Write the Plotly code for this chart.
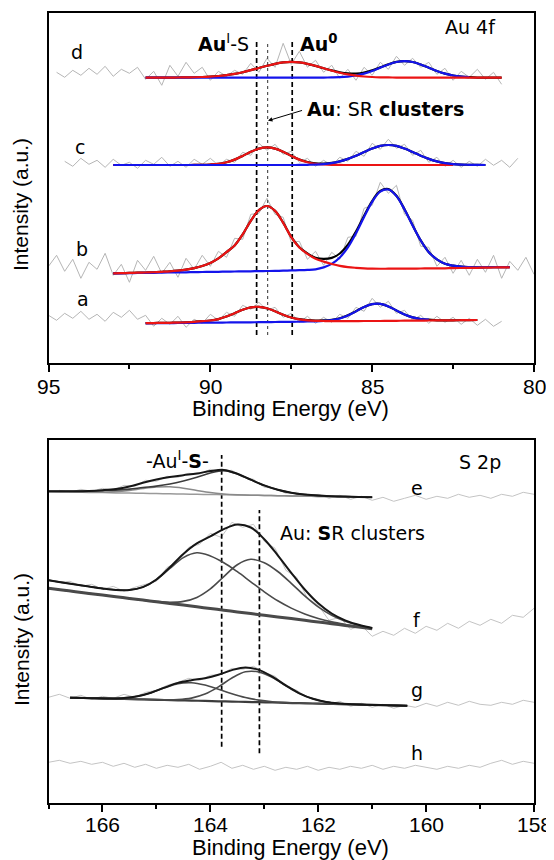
import numpy as np
import plotly.graph_objects as go

# ======================= Au 4f panel (top) =======================
TOP_E = [95.0, 94.75, 94.5, 94.25, 94.0, 93.75, 93.5, 93.25, 93.0, 92.75, 92.5, 92.25,
         92.0, 91.75, 91.5, 91.25, 91.0, 90.75, 90.5, 90.25, 90.0, 89.75, 89.5, 89.25,
         89.0, 88.75, 88.5, 88.25, 88.0, 87.75, 87.5, 87.25, 87.0, 86.75, 86.5, 86.25,
         86.0, 85.75, 85.5, 85.25, 85.0, 84.75, 84.5, 84.25, 84.0, 83.75, 83.5, 83.25,
         83.0, 82.75, 82.5, 82.25, 82.0, 81.75, 81.5, 81.25, 81.0, 80.75, 80.5, 80.25, 80.0]
TOP_TICKS = [95, 90, 85, 80]
TOP_MINOR = [92.5, 87.5, 82.5]

# raw spectra (intensity, arbitrary units) and their first energy
raw_d_start = 94.75
raw_d = [291, 286, 293, 288, 295, 289, 297, 287, 294, 290, 296, 284, 292, 278, 298, 287, 301, 290,
         296, 283, 292, 287, 293, 289, 300, 291, 305, 296, 320, 299, 312, 296, 303, 291, 298, 285,
         294, 283, 296, 288, 301, 294, 307, 298, 305, 296, 301, 289, 295, 283, 292, 286, 294, 284,
         291, 279]
raw_c_start = 94.5
raw_c = [202, 197, 205, 199, 203, 196, 204, 198, 201, 195, 203, 199, 206, 197, 202, 196, 204, 199,
         205, 198, 204, 201, 211, 208, 220, 213, 219, 209, 212, 201, 205, 197, 203, 198, 206, 202,
         212, 207, 220, 214, 224, 215, 219, 208, 213, 201, 206, 197, 203, 196, 202, 197, 204, 198,
         203, 196, 205]
raw_b_start = 95.0
raw_b = [97, 108, 92, 104, 85, 101, 94, 110, 88, 99, 81, 103, 93, 107, 90, 101, 86, 105, 94, 108,
         97, 112, 106, 125, 124, 149, 150, 165, 149, 146, 121, 122, 104, 112, 98, 111, 104, 126,
         127, 155, 158, 181, 170, 178, 149, 143, 117, 116, 97, 106, 90, 103, 88, 104, 91, 108, 85,
         102, 93, 106, 89]
raw_a_start = 95.0
raw_a = [48, 43, 50, 45, 52, 44, 49, 42, 51, 46, 53, 44, 48, 37, 45, 39, 47, 36, 44, 40, 49, 43,
         51, 47, 58, 54, 61, 53, 56, 46, 50, 41, 47, 40, 46, 41, 49, 45, 56, 52, 65, 56, 62, 50,
         53, 43, 48, 40, 47, 41, 46, 39, 45, 38, 44, 37, 42]

# fitted components (height above background): red and blue doublet components
fit_d_start = 92.0
base_d = 285.7
red_d = [0, 0, 0, 0, 0.1, 0.2, 0.35, 0.6, 1.0, 1.6, 2.5, 3.7, 5.4, 7.5, 9.6, 11.8, 13.8, 15.2, 15.7,
         15.2, 13.8, 11.7, 9.3, 7.0, 4.9, 3.2, 2.0, 1.1, 0.6, 0.3, 0.15, 0.07, 0, 0, 0, 0, 0, 0, 0,
         0, 0, 0, 0, 0, 0]
blue_d = [0] * 22 + [0.05, 0.16, 0.4, 1.0, 2.1, 4.0, 6.6, 9.9, 13.1, 15.6, 16.5, 15.6, 13.1, 9.9,
                     6.6, 4.0, 2.1, 1.0, 0.4, None, None, None, None]

fit_c_start = 93.0
base_c = 198.3
red_c = [0] * 10 + [0.05, 0.16, 0.5, 1.2, 2.8, 5.4, 9.1, 13.2, 16.4, 17.7, 16.4, 13.2, 9.1, 5.4,
                    2.8, 1.2, 0.5, 0.16, 0.05] + [0] * 14 + [None] * 4
blue_c = [0] * 23 + [0.06, 0.2, 0.4, 0.9, 1.9, 3.6, 6.1, 9.3, 13.0, 16.5, 19.1, 20.0, 19.1, 16.5,
                     13.0, 9.3, 6.1, 3.6, 1.9, 0.9, 0.4, 0.2, 0.06, 0]

fit_b_start = 93.0
base_b = [89.9, 90.0, 90.2, 90.3, 90.4, 90.5, 90.7, 90.8, 90.9, 91.0, 91.2, 91.3, 91.4, 91.5, 91.7,
          91.8, 91.9, 92.0, 92.2, 92.3, 92.4, 92.5, 92.7, 92.8, 92.9, 93.0, 93.2, 93.3, 93.4, 93.5,
          93.7, 93.8, 93.9, 94.0, 94.2, 94.3, 94.4, 94.5, 94.7, 94.8, 94.9, 95.0, 95.2, 95.3, 95.4,
          95.5, 95.7, 95.8, 95.9, 96.0]
red_b = [0.1, 0.15, 0.2, 0.3, 0.4, 0.55, 0.8, 1.2, 1.8, 2.7, 4.0, 6.0, 9.0, 13.5, 19.5, 26, 37,
         50.5, 61, 65, 60, 48, 33.5, 23, 16.5, 11.5, 8.5, 6.0, 4.0, 2.7, 1.8, 1.2, 0.8, 0.55, 0.4,
         0.3, 0.2, 0.15, 0.1, 0.05, 0, 0, 0, 0, 0, 0, 0, 0, 0, 0]
blue_b = [0] * 21 + [0.1, 0.2, 0.3, 0.5, 1.0, 2.7, 6.1, 12.4, 22.4, 36.3, 52.5, 67.6, 77.7, 79.6,
                     72.9, 59.4, 43.3, 28.1, 16.3, 9.0, 4.5, 2.4, 1.3, 0.8, 0.5, 0.35, 0.25, 0.15,
                     0.1]

fit_a_start = 92.0
base_a = [40.0, 40.1, 40.2, 40.2, 40.3, 40.4, 40.5, 40.6, 40.6, 40.7, 40.8, 40.9, 41.0, 41.0, 41.1,
          41.2, 41.3, 41.4, 41.4, 41.5, 41.6, 41.7, 41.8, 41.8, 41.9, 42.0, 42.1, 42.2, 42.2, 42.3,
          42.4, 42.5, 42.6, 42.6, 42.7, 42.8, 42.9, 43.0, 43.0, 43.1, 43.2, 43.3]
red_a = [0.1, 0.15, 0.2, 0.3, 0.4, 0.6, 0.9, 1.5, 2.2, 3.5, 6.0, 9.1, 12.5, 14.9, 15.4, 13.8, 10.7,
         7.2, 4.4, 2.5, 1.4, 0.8, 0.5, 0.35, 0.25, 0.2, 0.15, 0.1, 0.08] + [0] * 13
blue_a = [0] * 19 + [0.1, 0.2, 0.3, 0.6, 1.4, 2.9, 5.8, 9.8, 14.1, 16.9, 17.1, 14.5, 10.4, 6.2, 3.3,
                     1.6, 0.8] + [None] * 6

au_dash_E = [88.57, 87.47]       # Au(I)-S and Au(0) reference energies
au_dot_E = 88.23                 # Au: SR clusters
au_line_span = [28.3, 323.3]

# ======================= S 2p panel (bottom) =======================
BOT_TICKS = [166, 164, 162, 160, 158]
BOT_MINOR = [167, 165, 163, 161, 159]
BOT_RAW_E = [167.0, 166.8, 166.6, 166.4, 166.2, 166.0, 165.8, 165.6, 165.4, 165.2, 165.0, 164.8,
             164.6, 164.4, 164.2, 164.0, 163.8, 163.6, 163.4, 163.2, 163.0, 162.8, 162.6, 162.4,
             162.2, 162.0, 161.8, 161.6, 161.4, 161.2, 161.0, 160.8, 160.6, 160.4, 160.2, 160.0,
             159.8, 159.6, 159.4, 159.2, 159.0, 158.8, 158.6, 158.4, 158.2, 158.0]
raw_e = [None, 313, 311, 314, 312, 315, 313, 318, 317, 323, 322, 327, 326, 330, 329, 334, 332, 333,
         326, 324, 316, 315, 310, 311, 307, 309, 305, 308, 304, 307, 303, 306, 302, 305, 308, 304,
         307, 305, 309, 306, 308, 305, 309, 307, 311, 309]
raw_f = [224, 221, 222, 217, 219, 214, 217, 212, 216, 219, 222, 236, 241, 256, 259, 270, 266, 281,
         276, 279, 262, 255, 233, 226, 205, 198, 183, 186, 174, 178, 167, 172, 168, 175, 170, 177,
         173, 180, 175, 182, 178, 184, 180, 188, 186, 195]
raw_g = [106, 109, 105, 108, 104, 107, 105, 109, 106, 111, 113, 118, 121, 125, 123, 128, 129, 135,
         134, 137, 131, 127, 117, 113, 106, 104, 99, 102, 97, 100, 96, 99, 95, 98, 96, 100, 97,
         101, 98, 102, 99, 98, 101, 99, 103, 101]
raw_h = [41, 43, 40, 42, 39, 41, 37, 40, 36, 39, 35, 38, 36, 39, 34, 37, 41, 35, 38, 34, 37, 33, 36,
         34, 37, 33, 36, 34, 37, 35, 38, 34, 37, 35, 38, 36, 34, 37, 35, 38, 36, 40, 43, 39, 42, 40]

FIT_EF = [167.0, 166.75, 166.5, 166.25, 166.0, 165.75, 165.5, 165.25, 165.0, 164.75, 164.5, 164.25,
          164.0, 163.75, 163.5, 163.25, 163.0, 162.75, 162.5, 162.25, 162.0, 161.75, 161.5,
          161.25, 161.0]
base_e = [311.6, 311.4, 311.1, 310.9, 310.7, 310.4, 310.2, 310.0, 309.7, 309.5, 309.3, 309.0, 308.8,
          308.6, 308.3, 308.1, 307.9, 307.6, 307.4, 307.2, 306.9, 306.7, 306.5, 306.2, 306.0]
main_e = [0.5, 0.7, 1.0, 1.4, 2.0, 2.8, 4.0, 5.8, 7.5, 9.8, 13.0, 17.0, 21.5, 24.0, 21.0, 15.5, 10.0,
          6.0, 3.2, 1.6, 0.8, 0.4, 0.2, 0.1, 0]
shoulder_e = [0, 0, 0, 0.1, 0.4, 1.1, 2.6, 4.7, 6.5, 7.0, 5.8, 3.8, 1.9, 0.8, 0.3, 0, 0, 0, 0, 0, 0,
              0, 0, 0, 0]
base_f = [215.0, 213.3, 211.6, 209.9, 208.3, 206.6, 204.9, 203.2, 201.5, 199.8, 198.2, 196.5, 194.8,
          193.1, 191.4, 189.7, 188.0, 186.3, 184.7, 183.0, 181.3, 179.6, 177.9, 176.2, 174.5]
left_f = [8.0, 7.6, 7.2, 6.9, 6.6, 6.8, 8.4, 13.0, 22.0, 35.0, 47.5, 54.0, 52.5, 47.5, 40.2, 31.8,
          23.5, 16.2, 10.5, 6.4, 3.6, 1.8, 0.9, 0.4, 0.2]
right_f = [0, 0, 0, 0, 0, 0, 0, 0, 0.3, 1.2, 3.7, 9.4, 19.6, 33.6, 47.2, 54.3, 52.6, 45.5, 35.3,
           24.4, 15.1, 8.4, 4.2, 1.9, 0.7]

FIT_G = [166.6, 166.35, 166.1, 165.85, 165.6, 165.35, 165.1, 164.85, 164.6, 164.35, 164.1, 163.85,
         163.6, 163.35, 163.1, 162.85, 162.6, 162.35, 162.1, 161.85, 161.6, 161.35, 161.1, 160.85,
         160.6, 160.35]
base_g = [105.6, 105.3, 104.9, 104.6, 104.3, 104.0, 103.7, 103.3, 103.0, 102.7, 102.4, 102.0, 101.7,
          101.4, 101.1, 100.8, 100.4, 100.1, 99.8, 99.5, 99.2, 98.8, 98.5, 98.2, 97.9, 97.5]
left_g = [0, 0, 0.1, 0.3, 1.1, 3.1, 6.9, 12.2, 16.7, 17.9, 15.9, 12.1, 7.9, 4.4, 2.1, 0.8, 0.3, 0.1,
          0, 0, 0, 0, 0, 0, 0, 0]
right_g = [0, 0, 0, 0, 0, 0, 0, 0.2, 0.7, 2.5, 6.8, 14.4, 23.6, 30.1, 30.2, 25.0, 17.2, 9.8, 4.7,
           1.8, 0.6, 0.2, 0, 0, 0, 0]

s_dash_E = [163.79, 163.09]
s_dash_span = [[56.6, 348.3], [50.0, 293.3]]


# ======================= helpers =======================
def arr(v):
    return np.array([np.nan if a is None else a for a in v], dtype=float)


def seg(grid, start, n):
    i = grid.index(start)
    return grid[i:i + n]


RED = "rgb(235,20,20)"
BLUE = "rgb(20,20,235)"
RAWC = "#b5b5b5"
fig = go.Figure()


def line(x, y, color, width, xa="x", ya="y", shape="spline", dash=None):
    fig.add_trace(go.Scatter(x=x, y=y, mode="lines", xaxis=xa, yaxis=ya, hoverinfo="skip",
                             line=dict(color=color, width=width, shape=shape, dash=dash),
                             showlegend=False))


# ---- top panel ----
raws = [(raw_d_start, raw_d), (raw_c_start, raw_c), (raw_b_start, raw_b), (raw_a_start, raw_a)]
for st, vals in raws:
    line(seg(TOP_E, st, len(vals)), vals, RAWC, 1, shape="linear")

for e in au_dash_E:
    line([e, e], au_line_span, "black", 1.7, shape="linear", dash="5px,3px")
line([au_dot_E, au_dot_E], [au_line_span[0], au_line_span[1] - 3], "#555", 1.2,
     shape="linear", dash="dot")

fits = [(fit_d_start, base_d, red_d, blue_d, "red_top"),
        (fit_c_start, base_c, red_c, blue_c, "blue_top"),
        (fit_b_start, base_b, red_b, blue_b, "red_top"),
        (fit_a_start, base_a, red_a, blue_a, "red_top")]
for st, base, rd, bl, order in fits:
    x = seg(TOP_E, st, len(rd))
    b = np.array(base, dtype=float) * np.ones(len(rd))
    r = arr(rd)
    bb = arr(bl)
    env = b + np.nan_to_num(r) + np.nan_to_num(bb)
    line(x, env, "black", 2.2)
    if order == "red_top":
        line(x, b + bb, BLUE, 2.2)
        line(x, b + r, RED, 2.2)
    else:
        line(x, b + r, RED, 2.2)
        line(x, b + bb, BLUE, 2.2)

# ---- bottom panel ----
for vals in (raw_e, raw_f, raw_g, raw_h):
    line(BOT_RAW_E, vals, "#c4c4c4", 1, xa="x2", ya="y2", shape="linear")

for e, sp in zip(s_dash_E, s_dash_span):
    line([e, e], sp, "black", 1.7, xa="x2", ya="y2", shape="linear", dash="5px,3px")

be = np.array(base_e)
line(FIT_EF, be, "#9a9a9a", 1.5, "x2", "y2")
line(FIT_EF, be + np.array(shoulder_e), "#8a8a8a", 1.5, "x2", "y2")
line(FIT_EF, be + np.array(main_e), "#3c3c3c", 1.6, "x2", "y2")
line(FIT_EF, be + np.array(main_e) + np.array(shoulder_e), "#161616", 2.0, "x2", "y2")

bf = np.array(base_f)
line(FIT_EF, bf, "#4a4a4a", 3.0, "x2", "y2")
line(FIT_EF, bf + np.array(right_f), "#4a4a4a", 1.6, "x2", "y2")
line(FIT_EF, bf + np.array(left_f), "#4a4a4a", 1.6, "x2", "y2")
line(FIT_EF, bf + np.array(left_f) + np.array(right_f), "#161616", 2.0, "x2", "y2")

bg = np.array(base_g)
line(FIT_G, bg, "#3c3c3c", 2.2, "x2", "y2")
line(FIT_G, bg + np.array(left_g), "#4a4a4a", 1.6, "x2", "y2")
line(FIT_G, bg + np.array(right_g), "#4a4a4a", 1.6, "x2", "y2")
line(FIT_G, bg + np.array(left_g) + np.array(right_g), "#161616", 2.0, "x2", "y2")

# ======================= layout =======================
# the page body adds an 8 px margin, so the figure is laid out 8 px smaller
OFF = 8
W, H = 554 - OFF, 860 - OFF


def px(v):   # horizontal page pixel -> paper fraction
    return (v - OFF) / W


def py(v):   # vertical page pixel -> paper fraction
    return 1 - (v - OFF) / H


XD = [px(48.5), px(534)]
TICKF = dict(family="Arial, Liberation Sans, sans-serif", size=21, color="black")
LBLF = dict(family="DejaVu Sans, sans-serif", size=19, color="black")

common_x = dict(showline=True, linecolor="black", linewidth=1.5, mirror=True, showgrid=False,
                zeroline=False, ticks="outside", ticklen=7, tickwidth=1.5, tickcolor="black",
                showticklabels=False, domain=XD)
common_y = dict(showline=True, linecolor="black", linewidth=1.5, mirror=True, showgrid=False,
                zeroline=False, showticklabels=False, ticks="")

fig.update_layout(
    width=W, height=H, margin=dict(l=0, r=0, t=0, b=0),
    paper_bgcolor="white", plot_bgcolor="white", showlegend=False,
    xaxis=dict(common_x, anchor="y", range=[95, 80], tickvals=TOP_TICKS,
               minor=dict(tickvals=TOP_MINOR, ticks="outside", ticklen=4,
                          tickwidth=1.5, tickcolor="black")),
    yaxis=dict(common_y, anchor="x", domain=[py(363.3), py(12.7)], range=[0, 350.6]),
    xaxis2=dict(common_x, anchor="y2", range=[167, 158], tickvals=BOT_TICKS,
                minor=dict(tickvals=BOT_MINOR, ticks="outside", ticklen=4,
                           tickwidth=1.5, tickcolor="black")),
    yaxis2=dict(common_y, anchor="x2", domain=[py(803.3), py(440)], range=[0, 363.3]),
)

ann = []


def txt(x, y, s, xa="x", ya="y", xanchor="center", font=LBLF, **kw):
    ann.append(dict(x=x, y=y, xref=xa, yref=ya, text=s, showarrow=False, xanchor=xanchor,
                    yanchor="middle", font=font, **kw))


for lab, x, y in [("d", 94.13, 311.6), ("c", 94.03, 216.3), ("b", 93.97, 114), ("a", 93.94, 64)]:
    txt(x, y, lab)
txt(81.95, 336.6, "Au 4f")
txt(88.75, 320, "<b>Au</b><sup>I</sup>-S", xanchor="right")
txt(87.3, 320, "<b>Au<sup>0</sup></b>", xanchor="left")
txt(87.08, 254, "<b>Au</b>: SR <b>clusters</b>", xanchor="left")
ann.append(dict(x=88.22, y=242.6, ax=87.12, ay=253.3, xref="x", yref="y", axref="x", ayref="y",
                text="", showarrow=True, arrowhead=2, arrowsize=0.9, arrowwidth=1,
                arrowcolor="black"))

txt(164.6, 343.3, "-Au<sup>I</sup>-<b>S</b>-", "x2", "y2")
txt(159.0, 341.6, "S 2p", "x2", "y2")
txt(162.75, 270.3, "Au: <b>S</b>R clusters", "x2", "y2", xanchor="left")
for lab, y in [("e", 315), ("f", 183.3), ("g", 113.3), ("h", 50.3)]:
    txt(160.17, y, lab, "x2", "y2")

# tick labels
for v in TOP_TICKS:
    txt(v, py(386), str(v), "x", "paper", font=TICKF)
for v in BOT_TICKS:
    txt(v, py(824), str(v), "x2", "paper", font=TICKF)

TITLEF = dict(family="Arial, Liberation Sans, sans-serif", size=21, color="black")
XTITLEF = dict(family="Arial, Liberation Sans, sans-serif", size=22, color="black")
for yc in (py(205), py(640)):
    txt(px(21), yc, "Intensity (a.u.)", "paper", "paper", font=TITLEF, textangle=-90)
for yc in (py(408), py(847)):
    txt(px(290), yc, "Binding Energy (eV)", "paper", "paper", font=XTITLEF)

fig.update_layout(annotations=ann)
fig.write_html("out.html")
